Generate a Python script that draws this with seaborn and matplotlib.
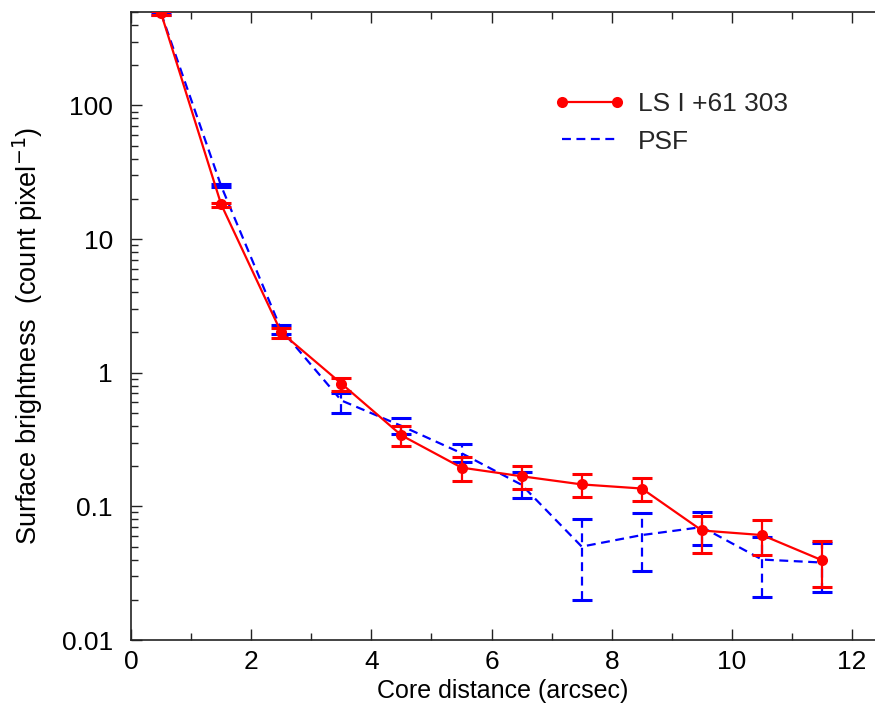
import numpy as np
import pandas as pd
import matplotlib
matplotlib.use("Agg")
import matplotlib.pyplot as plt
import seaborn as sns
from matplotlib.ticker import FixedLocator, FixedFormatter, LogLocator, MultipleLocator, NullFormatter

# core distance bins (arcsec)
radius = [0.5, 1.5, 2.5, 3.5, 4.5, 5.5, 6.5, 7.5, 8.5, 9.5, 10.5, 11.5]

# LS I +61 303 surface brightness and error bar ends
src_val = [490, 18.2, 2.0, 0.83, 0.34, 0.195, 0.168, 0.146, 0.136, 0.066, 0.061, 0.0395]
src_lo = [475, 17.5, 1.82, 0.73, 0.285, 0.156, 0.134, 0.117, 0.109, 0.045, 0.043, 0.0249]
src_hi = [505, 18.6, 2.17, 0.92, 0.40, 0.236, 0.202, 0.176, 0.164, 0.084, 0.079, 0.055]

# PSF profile and error bar ends
psf_val = [490, 25.0, 2.1, 0.62, 0.40, 0.25, 0.145, 0.050, 0.061, 0.070, 0.040, 0.038]
psf_lo = [478, 24.4, 1.95, 0.50, 0.35, 0.213, 0.115, 0.020, 0.033, 0.051, 0.021, 0.023]
psf_hi = [502, 25.7, 2.28, 0.71, 0.46, 0.295, 0.182, 0.081, 0.089, 0.090, 0.059, 0.053]

ytick_vals = [0.01, 0.1, 1, 10, 100]
ytick_labels = ["0.01", "0.1", "1", "10", "100"]
xtick_vals = [0, 2, 4, 6, 8, 10, 12]

sns.set_style("ticks")
plt.rcParams['font.family'] = ['Liberation Sans', 'DejaVu Sans']

df_src = pd.DataFrame({'r': radius, 'sb': src_val})
df_psf = pd.DataFrame({'r': radius, 'sb': psf_val})

fig = plt.figure(figsize=(8.75, 7.14), dpi=100)
ax = fig.add_axes([0.1497, 0.1036, 0.8503, 0.8796])

# PSF
psf_err = [np.array(psf_val) - np.array(psf_lo), np.array(psf_hi) - np.array(psf_val)]
eb = ax.errorbar(radius, psf_val, yerr=psf_err, fmt='none', ecolor='#0000ff',
                 elinewidth=1.6, capsize=7, capthick=2.2, zorder=2)
eb[2][0].set_linestyle((0, (4, 2.5)))
sns.lineplot(data=df_psf, x='r', y='sb', ax=ax, color='#0000ff', linewidth=1.6,
             linestyle=(0, (4, 2.5)), label='PSF', zorder=2)

# source
src_err = [np.array(src_val) - np.array(src_lo), np.array(src_hi) - np.array(src_val)]
ax.errorbar(radius, src_val, yerr=src_err, fmt='none', ecolor='#ff0000',
            elinewidth=1.6, capsize=7, capthick=2.2, zorder=3)
sns.lineplot(data=df_src, x='r', y='sb', ax=ax, color='#ff0000', linewidth=1.6,
             marker='o', markersize=8, markeredgewidth=0, label='LS I +61 303', zorder=4)

ax.set_yscale('log')
ax.set_ylim(0.01, 500)
ax.set_xlim(0, 12.38)

ax.yaxis.set_major_locator(FixedLocator(ytick_vals))
ax.yaxis.set_major_formatter(FixedFormatter(ytick_labels))
ax.yaxis.set_minor_locator(LogLocator(base=10, subs=np.arange(2, 10)))
ax.yaxis.set_minor_formatter(NullFormatter())
ax.xaxis.set_major_locator(FixedLocator(xtick_vals))
ax.xaxis.set_minor_locator(MultipleLocator(1))

ax.tick_params(which='both', direction='in', top=True, right=False, width=1.0, colors='#222222')
ax.tick_params(which='major', length=8, labelsize=19, labelcolor='black')
ax.tick_params(axis='y', which='major', pad=13)
ax.tick_params(axis='x', which='major', pad=7)
ax.tick_params(which='minor', length=5)
for s in ['left', 'bottom', 'top']:
    ax.spines[s].set_linewidth(1.2)
    ax.spines[s].set_color('#222222')
ax.spines['right'].set_visible(False)

ax.set_xlabel('Core distance (arcsec)', fontsize=18, labelpad=4, color='black')
ax.set_ylabel('Surface brightness  (count pixel$^{-1}$)', fontsize=19.5, color='black')
ax.yaxis.set_label_coords(-0.116, 0.485)

handles, labels = ax.get_legend_handles_labels()
order = [labels.index('LS I +61 303'), labels.index('PSF')]
ax.legend([handles[i] for i in order], [labels[i] for i in order],
          loc='upper left', bbox_to_anchor=(0.568, 0.872), frameon=False,
          fontsize=19, numpoints=2, handlelength=2.7, handletextpad=0.5,
          borderpad=0, borderaxespad=0, labelspacing=0.5)

fig.savefig('out.png', dpi=100)
